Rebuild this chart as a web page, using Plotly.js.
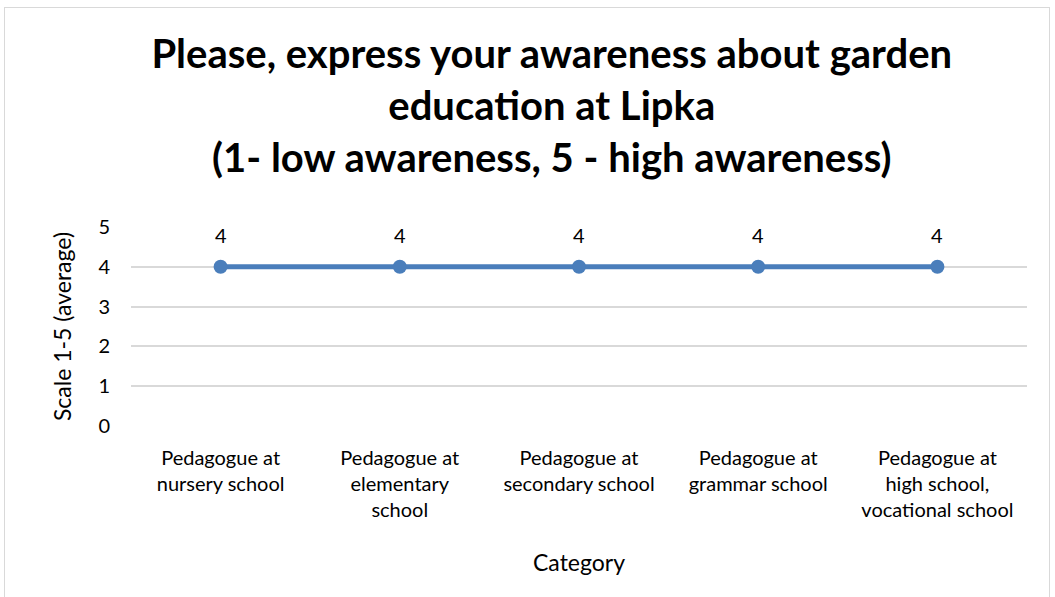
<!DOCTYPE html>
<html>
<head>
<meta charset="utf-8">
<script src="https://cdn.plot.ly/plotly-3.0.1.min.js"></script>
<style>
html,body{margin:0;padding:0;background:#fff;}
#wrap{position:absolute;left:4px;top:7px;width:1046px;height:590px;border:1px solid #d9d9d9;border-bottom:none;box-sizing:border-box;}
#chart{position:absolute;left:0;top:0;width:1055px;height:597px;}
</style>
</head>
<body>
<div id="wrap"></div>
<div id="chart"></div>
<script>
const categories = [
  "Pedagogue at<br>nursery school",
  "Pedagogue at<br>elementary<br>school",
  "Pedagogue at<br>secondary school",
  "Pedagogue at<br>grammar school",
  "Pedagogue at<br>high school,<br>vocational school"
];
const values = [4, 4, 4, 4, 4];
const yTicks = [0, 1, 2, 3, 4, 5];
const titleText = "Please, express your awareness about garden<br>education at Lipka<br>(1- low awareness, 5 - high awareness)";
const xTitle = "Category";
const yTitle = "Scale 1-5 (average)";

const FONT = "Lato, 'Open Sans', sans-serif";
const idx = categories.map((c, i) => i);

const trace = {
  x: idx,
  y: values,
  type: "scatter",
  mode: "lines+markers",
  line: {color: "#4a7ebb", width: 5},
  marker: {color: "#4a7ebb", size: 14},
  hoverinfo: "skip",
  showlegend: false
};

const annotations = values.map((v, i) => ({
  x: i, y: v, xref: "x", yref: "y",
  text: String(v), showarrow: false,
  yshift: 32, font: {family: FONT, size: 20, color: "#000"}
}));

const layout = {
  width: 1055, height: 597,
  paper_bgcolor: "rgba(0,0,0,0)",
  plot_bgcolor: "rgba(0,0,0,0)",
  margin: {l: 131, r: 28, t: 227, b: 171},
  title: {
    text: titleText,
    font: {family: FONT, size: 40, color: "#000", weight: "bold"},
    x: 0.523, xanchor: "center",
    y: 0.886, yanchor: "middle", yref: "container"
  },
  xaxis: {
    range: [-0.5, 4.5],
    tickmode: "array", tickvals: idx, ticktext: categories,
    showgrid: false, zeroline: false, showline: false, ticks: "",
    tickfont: {family: FONT, size: 20, color: "#000"},
    ticklabelstandoff: 18,
    title: {text: xTitle, font: {family: FONT, size: 23, color: "#000"}, standoff: 34},
    fixedrange: true
  },
  yaxis: {
    range: [0, 5],
    tickmode: "array", tickvals: yTicks,
    showgrid: true, gridcolor: "#d9d9d9", gridwidth: 2,
    zeroline: false, showline: false, ticks: "",
    tickfont: {family: FONT, size: 20, color: "#000"},
    ticklabelstandoff: 20,
    title: {text: yTitle, font: {family: FONT, size: 23, color: "#000"}, standoff: 20},
    fixedrange: true
  },
  annotations: annotations
};

Plotly.newPlot("chart", [trace], layout, {displayModeBar: false, staticPlot: true});
</script>
</body>
</html>
